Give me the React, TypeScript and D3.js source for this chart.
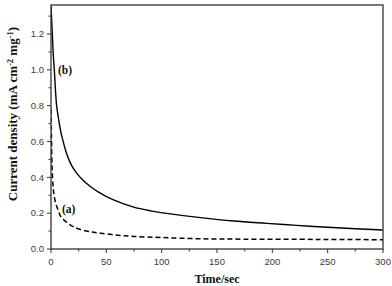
import React from "react";
import * as d3 from "d3";

const timeA = [0, 0.5, 1, 2, 3, 4.5, 6.3, 9, 14, 20, 25, 35, 45, 60, 75, 100, 135, 175, 225, 260, 300];
const valA = [0.78, 0.6, 0.45, 0.34, 0.29, 0.25, 0.22, 0.18, 0.15, 0.125, 0.112, 0.097, 0.088, 0.077, 0.07, 0.064, 0.057, 0.055, 0.054, 0.053, 0.052];

const timeB = [0, 0.6, 1.2, 2, 3, 4, 5.1, 7, 9, 11, 14, 18.7, 23, 28, 35, 43, 56, 74, 90, 104.5, 135, 165, 195, 222, 250, 275, 300];
const valB = [1.36, 1.28, 1.2, 1.09, 1.0, 0.89, 0.8, 0.72, 0.65, 0.6, 0.535, 0.465, 0.425, 0.39, 0.352, 0.318, 0.275, 0.235, 0.213, 0.199, 0.175, 0.156, 0.143, 0.132, 0.121, 0.113, 0.106];

const xTicks = [0, 50, 100, 150, 200, 250, 300];
const yTicks = [0, 0.2, 0.4, 0.6, 0.8, 1.0, 1.2];

export default function App() {
  const W = 392, H = 286;
  const left = 51, right = 383, top = 5, bottom = 249;
  const x = d3.scaleLinear().domain([0, 300]).range([left, right]);
  const y = d3.scaleLinear().domain([0, 1.362]).range([bottom, top]);
  const curve = d3.curveCatmullRom.alpha(0.5);
  const lineA = d3.line<number>().x((_, i) => x(timeA[i])).y((d) => y(d)).curve(curve);
  const lineB = d3.line<number>().x((_, i) => x(timeB[i])).y((d) => y(d)).curve(curve);
  const xMinor = d3.range(25, 300, 50);
  const yMinor = d3.range(0.1, 1.36, 0.2);
  const axisCol = "#333";
  const tickFont = "'Liberation Sans', Arial, sans-serif";
  const serif = "'Liberation Serif', 'Times New Roman', serif";
  return (
    <svg width={W} height={H} style={{ position: "absolute", left: 0, top: 0 }}>
      <rect x={0} y={0} width={W} height={H} fill="#fff" />
      <defs>
        <clipPath id="plot">
          <rect x={left} y={top} width={right - left} height={bottom - top} />
        </clipPath>
      </defs>
      <g clipPath="url(#plot)">
        <path d={lineB(valB) || ""} fill="none" stroke="#000" strokeWidth={1.4} />
        <path d={lineA(valA) || ""} fill="none" stroke="#000" strokeWidth={1.5} strokeDasharray="5,3" />
      </g>
      <rect x={left} y={top} width={right - left} height={bottom - top} fill="none" stroke={axisCol} strokeWidth={1.3} />
      {xTicks.map((t) => (
        <g key={"xt" + t}>
          <line x1={x(t)} x2={x(t)} y1={bottom} y2={bottom + 4} stroke={axisCol} strokeWidth={1} />
          <text x={x(t)} y={265} textAnchor="middle" fontFamily={tickFont} fontSize={9.5} fill="#3a3a3a">{t}</text>
        </g>
      ))}
      {xMinor.map((t) => (
        <line key={"xm" + t} x1={x(t)} x2={x(t)} y1={bottom} y2={bottom + 2.5} stroke={axisCol} strokeWidth={1} />
      ))}
      {yTicks.map((t) => (
        <g key={"yt" + t}>
          <line x1={left - 4} x2={left} y1={y(t)} y2={y(t)} stroke={axisCol} strokeWidth={1} />
          <text x={44} y={y(t) + 3.3} textAnchor="end" fontFamily={tickFont} fontSize={9.5} fill="#3a3a3a">{t.toFixed(1)}</text>
        </g>
      ))}
      {yMinor.map((t) => (
        <line key={"ym" + t} x1={left - 2.5} x2={left} y1={y(t)} y2={y(t)} stroke={axisCol} strokeWidth={1} />
      ))}
      <text x={58} y={74} fontFamily={serif} fontWeight="bold" fontSize={11.5} fill="#111">(b)</text>
      <text x={62} y={213} fontFamily={serif} fontWeight="bold" fontSize={11.5} fill="#111">(a)</text>
      <text x={(left + right) / 2} y={283} textAnchor="middle" fontFamily={serif} fontWeight="bold" fontSize={12} fill="#111">Time/sec</text>
      <text transform={`translate(17,114) rotate(-90)`} textAnchor="middle" fontFamily={serif} fontWeight="bold" fontSize={13} fill="#111">
        Current density (mA cm
        <tspan dy={-4.5} fontSize={8.5}>-2</tspan>
        <tspan dy={4.5}> mg</tspan>
        <tspan dy={-4.5} fontSize={8.5}>-1</tspan>
        <tspan dy={4.5}>)</tspan>
      </text>
    </svg>
  );
}
